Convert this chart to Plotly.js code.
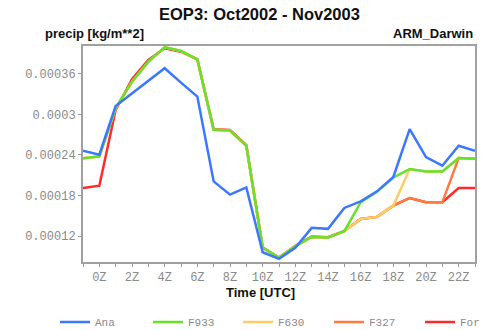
<!DOCTYPE html>
<html>
<head>
<meta charset="utf-8">
<script src="https://cdn.plot.ly/plotly-3.0.1.min.js"></script>
<style>html,body{margin:0;padding:0;background:#fff;}#chart{width:485px;height:330px;}</style>
</head>
<body>
<div id="chart"></div>
<script>
const hours = [-1,0,1,2,3,4,5,6,7,8,9,10,11,12,13,14,15,16,17,18,19,20,21,22,23];
const tickHours = [0,2,4,6,8,10,12,14,16,18,20,22];
const tickLabels = ["0Z","2Z","4Z","6Z","8Z","10Z","12Z","14Z","16Z","18Z","20Z","22Z"];
const yTicks = [0.00012,0.00018,0.00024,0.0003,0.00036];
const yTickLabels = ["0.00012","0.00018","0.00024","0.0003","0.00036"];

const ana  = [0.0002462,0.0002403,0.0003124,0.0003311,0.0003497,0.0003680,0.0003468,0.0003261,0.0002010,0.0001814,0.0001921,0.0000964,0.0000867,0.0001029,0.0001324,0.0001309,0.0001618,0.0001715,0.0001863,0.0002075,0.0002781,0.0002369,0.0002241,0.0002535,0.0002462];
const f933 = [0.0002350,0.0002378,0.0003091,0.0003482,0.0003777,0.0003989,0.0003934,0.0003812,0.0002771,0.0002761,0.0002535,0.0001029,0.0000882,0.0001053,0.0001190,0.0001180,0.0001274,0.0001700,0.0001855,0.0002068,0.0002192,0.0002157,0.0002157,0.0002354,0.0002344];
const f630 = [0.0002350,0.0002378,0.0003091,0.0003482,0.0003777,0.0003989,0.0003934,0.0003812,0.0002771,0.0002761,0.0002535,0.0001029,0.0000882,0.0001053,0.0001190,0.0001180,0.0001274,0.0001456,0.0001486,0.0001652,0.0002192,0.0002157,0.0002157,0.0002354,0.0002344];
const f327 = [0.0002350,0.0002378,0.0003091,0.0003482,0.0003777,0.0003989,0.0003934,0.0003812,0.0002771,0.0002761,0.0002535,0.0001029,0.0000882,0.0001053,0.0001190,0.0001180,0.0001274,0.0001456,0.0001486,0.0001652,0.0001765,0.0001701,0.0001701,0.0002354,0.0002344];
const forc = [0.0001913,0.0001947,0.0003066,0.0003518,0.0003802,0.0003974,0.0003924,0.0003812,0.0002780,0.0002770,0.0002545,0.0001035,0.0000885,0.0001058,0.0001195,0.0001185,0.0001278,0.0001456,0.0001486,0.0001652,0.0001765,0.0001701,0.0001701,0.0001913,0.0001913];

const names = ["Ana","F933","F630","F327","For"];
const colors = ["#3b78ff","#66e22a","#ffcc66","#ff7a40","#ff2a2a"];
const series = [ana,f933,f630,f327,forc];
const legendIds = ["legend","legend2","legend3","legend4","legend5"];
const legendX = [55,148,238,329,420];

const traces = [];
for (let i = series.length - 1; i >= 0; i--) {
  traces.push({
    x: hours, y: series[i], name: names[i], type: "scatter", mode: "lines",
    legend: legendIds[i],
    line: {color: colors[i], width: 2.5}
  });
}

const tickFont = {family: "Liberation Mono, DejaVu Sans Mono, monospace", size: 12, color: "#8a8a8a"};
const boldFont = {family: "Liberation Sans, Arial, sans-serif", size: 13, color: "#111"};

const layout = {
  width: 485, height: 330,
  margin: {l: 83, r: 10, t: 46, b: 68},
  paper_bgcolor: "#fff", plot_bgcolor: "#fff",
  showlegend: true,
  title: {text: "<b>EOP3: Oct2002 - Nov2003</b>", xref: "container", yref: "container",
          x: 0.535, xanchor: "center", y: 1 - 14/330, yanchor: "middle",
          font: {family: "Liberation Sans, Arial, sans-serif", size: 16.5, color: "#111"}},
  xaxis: {
    range: [-1, 23], tickmode: "array", tickvals: tickHours, ticktext: tickLabels,
    ticks: "outside", ticklen: 3, tickcolor: "#999", tickwidth: 1,
    minor: {tickmode: "linear", tick0: 0, dtick: 1, ticks: "outside", ticklen: 3, tickcolor: "#999", showgrid: false},
    showgrid: false, zeroline: false, showline: true, linecolor: "#a0a0a0", linewidth: 2, mirror: true,
    tickfont: tickFont
  },
  yaxis: {
    range: [0.000082, 0.0004008], tickmode: "array", tickvals: yTicks, ticktext: yTickLabels,
    ticks: "outside", ticklen: 3, tickcolor: "#999", tickwidth: 1,
    showgrid: false, zeroline: false, showline: true, linecolor: "#a0a0a0", linewidth: 2, mirror: true,
    tickfont: tickFont
  },
  annotations: [
    {text: "<b>precip [kg/m**2]</b>", xref: "paper", yref: "paper", x: (43-83)/392, y: 1 + 13/216,
     xanchor: "left", yanchor: "middle", showarrow: false, font: boldFont},
    {text: "<b>ARM_Darwin</b>", xref: "paper", yref: "paper", x: 1, y: 1 + 13/216,
     xanchor: "right", yanchor: "middle", showarrow: false, font: boldFont},
    {text: "<b>Time [UTC]</b>", xref: "paper", yref: "paper", x: (260-83)/392, y: 1 - (292-46)/216,
     xanchor: "center", yanchor: "middle", showarrow: false, font: boldFont}
  ]
};

legendIds.forEach(function (id, i) {
  layout[id] = {
    orientation: "h", xref: "container", yref: "container",
    x: legendX[i]/485, xanchor: "left", y: 1 - 322/330, yanchor: "middle",
    font: {family: "Liberation Mono, DejaVu Sans Mono, monospace", size: 11, color: "#8a8a8a"},
    bgcolor: "rgba(0,0,0,0)", borderwidth: 0
  };
});

Plotly.newPlot("chart", traces, layout, {displayModeBar: false, staticPlot: true});
</script>
</body>
</html>
